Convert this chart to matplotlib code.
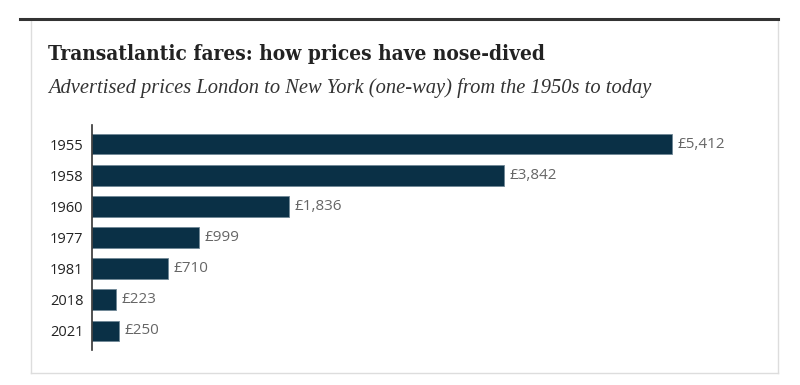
import matplotlib
matplotlib.use("Agg")
import matplotlib.pyplot as plt
from matplotlib.lines import Line2D
from matplotlib import font_manager as fm

years = ["1955", "1958", "1960", "1977", "1981", "2018", "2021"]
prices = [5412, 3842, 1836, 999, 710, 223, 250]
price_labels = ["£5,412", "£3,842", "£1,836", "£999", "£710", "£223", "£250"]
title = "Transatlantic fares: how prices have nose-dived"
subtitle = "Advertised prices London to New York (one-way) from the 1950s to today"

W, H = 800, 385
fig = plt.figure(figsize=(W / 100, H / 100), dpi=100)
fig.patch.set_facecolor("white")

def fx(px):
    return px / W

def fy(py):
    return 1 - py / H

def has_font(family, **kw):
    try:
        fm.findfont(fm.FontProperties(family=family, **kw), fallback_to_default=False)
        return True
    except Exception:
        return False

# choose a condensed serif for the title if available
title_family = "Liberation Serif"
title_stretch = "normal"
try:
    fp = fm.FontProperties(family="DejaVu Serif", stretch="condensed", weight="bold")
    path = fm.findfont(fp, fallback_to_default=False)
    if "Condensed" in path:
        title_family = "DejaVu Serif"
        title_stretch = "condensed"
except Exception:
    pass

year_family = "Liberation Sans Narrow" if has_font("Liberation Sans Narrow") else "Open Sans"
year_size = 12.5 if year_family == "Liberation Sans Narrow" else 10.5

# card border
fig.add_artist(Line2D([fx(31), fx(31)], [fy(19), fy(373)], color="#dddddd", lw=1))
fig.add_artist(Line2D([fx(778), fx(778)], [fy(19), fy(373)], color="#dddddd", lw=1))
fig.add_artist(Line2D([fx(31), fx(778)], [fy(373), fy(373)], color="#dddddd", lw=1))
# top dark rule
fig.add_artist(Line2D([fx(20), fx(778)], [fy(18.5), fy(18.5)], color="#333333", lw=2.2))

renderer = fig.canvas.get_renderer()

def fitted_text(x, y, s, target_w, size, **kw):
    t = fig.text(x, y, s, fontsize=size, va="baseline", ha="left", **kw)
    w = t.get_window_extent(renderer=renderer).width
    t.set_fontsize(size * target_w / w)
    return t

fitted_text(fx(48), fy(60), title, 500, 16, fontweight="bold",
            family=title_family, fontstretch=title_stretch, color="#222222")
fitted_text(fx(48), fy(93), subtitle, 602, 13, style="italic",
            family="Liberation Serif", color="#333333")

x_left, x_right = 92.3, 734.7
y_top, y_bot = 125, 350
ax = fig.add_axes([fx(x_left), fy(y_bot), fx(x_right - x_left), (y_bot - y_top) / H])
ax.set_facecolor("none")
pos = list(range(len(years)))
ax.barh(pos, prices, height=0.67, color="#0a3046", edgecolor="#6f8796", linewidth=0.6, zorder=2)
ax.set_xlim(0, 6000)
ax.set_ylim(6.61, -0.61)
ax.set_yticks(pos)
ax.set_yticklabels(years, fontsize=year_size, family=year_family, color="#222222")
ax.tick_params(axis="y", length=0, pad=6.5)
ax.set_xticks([])
for s in ["top", "right", "bottom"]:
    ax.spines[s].set_visible(False)
ax.spines["left"].set_color("#333333")
ax.spines["left"].set_linewidth(1.2)
for p, v, lab in zip(pos, prices, price_labels):
    ax.text(v + 50, p, lab, va="center", ha="left", fontsize=11,
            family="Open Sans", color="#666666")

fig.savefig("out.png", dpi=100, facecolor="white")
